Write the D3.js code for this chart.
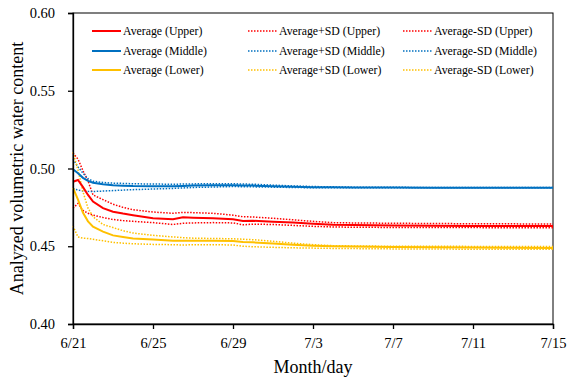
<!DOCTYPE html>
<html>
<head>
<meta charset="utf-8">
<script src="https://cdn.jsdelivr.net/npm/d3@7"></script>
<style>
    body { margin: 0; background: #fff; }
    svg, svg text { font-family: "Liberation Serif", "Times New Roman", Times, serif; fill: #000; }
</style>
</head>
<body>
<div id="svg_div"></div>
<script>
// days after 6/21
let days = [0, 0.25, 0.5, 0.75, 1, 1.5, 2, 2.5, 3, 4, 5, 5.5, 6, 7, 8, 8.5, 9, 10, 11, 12, 13, 14, 16, 18, 20, 22, 24];

let upper_avg = [0.4915, 0.4926, 0.4880, 0.4830, 0.4787, 0.4745, 0.4722, 0.4710, 0.4700, 0.4680, 0.4673, 0.4686, 0.4684, 0.4680, 0.4673, 0.4662, 0.4664, 0.4658, 0.4652, 0.4645, 0.4638, 0.4636, 0.4634, 0.4632, 0.4631, 0.4630, 0.4630];
let upper_plus = [0.5100, 0.5060, 0.4985, 0.4920, 0.4830, 0.4800, 0.4770, 0.4750, 0.4735, 0.4720, 0.4712, 0.4718, 0.4716, 0.4712, 0.4700, 0.4690, 0.4688, 0.4680, 0.4670, 0.4660, 0.4652, 0.4650, 0.4648, 0.4646, 0.4645, 0.4644, 0.4643];
let upper_minus = [0.4745, 0.4775, 0.4730, 0.4712, 0.4700, 0.4685, 0.4672, 0.4665, 0.4660, 0.4652, 0.4640, 0.4648, 0.4650, 0.4652, 0.4650, 0.4638, 0.4642, 0.4640, 0.4634, 0.4628, 0.4624, 0.4622, 0.4621, 0.4620, 0.4620, 0.4619, 0.4619];

let middle_avg = [0.4995, 0.4970, 0.4940, 0.4920, 0.4908, 0.4898, 0.4892, 0.4889, 0.4887, 0.4886, 0.4886, 0.4888, 0.4890, 0.4892, 0.4893, 0.4891, 0.4890, 0.4886, 0.4883, 0.4880, 0.4879, 0.4878, 0.4878, 0.4877, 0.4877, 0.4877, 0.4877];
let middle_plus = [0.5060, 0.5010, 0.4970, 0.4935, 0.4918, 0.4910, 0.4906, 0.4904, 0.4902, 0.4900, 0.4899, 0.4900, 0.4901, 0.4902, 0.4902, 0.4900, 0.4899, 0.4893, 0.4888, 0.4884, 0.4882, 0.4880, 0.4879, 0.4878, 0.4878, 0.4878, 0.4878];
let middle_minus = [0.4870, 0.4862, 0.4856, 0.4853, 0.4852, 0.4855, 0.4858, 0.4861, 0.4864, 0.4868, 0.4872, 0.4875, 0.4878, 0.4881, 0.4884, 0.4883, 0.4882, 0.4880, 0.4878, 0.4876, 0.4876, 0.4876, 0.4876, 0.4876, 0.4876, 0.4876, 0.4876];

let lower_avg = [0.4875, 0.4800, 0.4715, 0.4660, 0.4626, 0.4594, 0.4570, 0.4560, 0.4550, 0.4543, 0.4536, 0.4535, 0.4536, 0.4535, 0.4533, 0.4528, 0.4525, 0.4518, 0.4510, 0.4504, 0.4500, 0.4498, 0.4495, 0.4493, 0.4492, 0.4490, 0.4488];
let lower_plus = [0.5105, 0.4990, 0.4850, 0.4745, 0.4690, 0.4640, 0.4620, 0.4600, 0.4585, 0.4570, 0.4560, 0.4555, 0.4552, 0.4550, 0.4548, 0.4545, 0.4542, 0.4532, 0.4520, 0.4510, 0.4504, 0.4502, 0.4500, 0.4500, 0.4499, 0.4499, 0.4498];
let lower_minus = [0.4630, 0.4560, 0.4552, 0.4550, 0.4545, 0.4535, 0.4525, 0.4520, 0.4516, 0.4512, 0.4510, 0.4508, 0.4510, 0.4510, 0.4508, 0.4500, 0.4497, 0.4493, 0.4490, 0.4488, 0.4486, 0.4485, 0.4483, 0.4482, 0.4481, 0.4480, 0.4480];

let x_ticks = [0, 4, 8, 12, 16, 20, 24];
let x_tick_labels = ["6/21", "6/25", "6/29", "7/3", "7/7", "7/11", "7/15"];
let y_ticks = [0.40, 0.45, 0.50, 0.55, 0.60];

let label_x = "Month/day";
let label_y = "Analyzed volumetric water content";

// legend order is row by row, like the picture
let series = [
    { name: "Average (Upper)", values: upper_avg, color: "#FF0000", dotted: false },
    { name: "Average+SD (Upper)", values: upper_plus, color: "#FF0000", dotted: true },
    { name: "Average-SD (Upper)", values: upper_minus, color: "#FF0000", dotted: true },
    { name: "Average (Middle)", values: middle_avg, color: "#0070C0", dotted: false },
    { name: "Average+SD (Middle)", values: middle_plus, color: "#0070C0", dotted: true },
    { name: "Average-SD (Middle)", values: middle_minus, color: "#0070C0", dotted: true },
    { name: "Average (Lower)", values: lower_avg, color: "#FFC000", dotted: false },
    { name: "Average+SD (Lower)", values: lower_plus, color: "#FFC000", dotted: true },
    { name: "Average-SD (Lower)", values: lower_minus, color: "#FFC000", dotted: true }
];

let font = "'Liberation Serif', 'Times New Roman', Times, serif";

//margins and dimensions
let width = 568, height = 379;
let margin = { left: 73, right: 15, top: 13, bottom: 55 };
let inner_w = width - margin.left - margin.right;
let inner_h = height - margin.top - margin.bottom;

let svg = d3.select("#svg_div").append("svg")
    .attr("width", width)
    .attr("height", height)
    .attr("font-family", font);

let g = svg.append("g")
    .attr("transform", "translate(" + margin.left + "," + margin.top + ")");

//scales
let x = d3.scaleLinear().domain([0, 24]).range([0, inner_w]);
let y = d3.scaleLinear().domain([0.40, 0.60]).range([inner_h, 0]);

//frame (top and right)
g.append("rect")
    .attr("width", inner_w)
    .attr("height", inner_h)
    .attr("fill", "none")
    .attr("stroke", "#000")
    .attr("stroke-width", 1);

//lines, dotted first so the averages sit on top
let line = d3.line().x((d, i) => x(days[i])).y(d => y(d));
let order = series.filter(s => s.dotted).concat(series.filter(s => !s.dotted));

g.selectAll(".series")
    .data(order)
    .join("path")
    .attr("class", "series")
    .attr("d", d => line(d.values))
    .attr("fill", "none")
    .attr("stroke", d => d.color)
    .attr("stroke-width", d => d.dotted ? 1.5 : 2)
    .attr("stroke-dasharray", d => d.dotted ? "1.5,1.5" : null);

//axes
let y_axis = g.append("g")
    .call(d3.axisLeft(y).tickValues(y_ticks).tickFormat(d3.format(".2f")).tickSize(5).tickPadding(13));

let x_axis = g.append("g")
    .attr("transform", "translate(0," + inner_h + ")")
    .call(d3.axisBottom(x).tickValues(x_ticks).tickFormat((d, i) => x_tick_labels[i]).tickSize(5).tickPadding(9));

[x_axis, y_axis].forEach(a => {
    a.attr("font-family", font).attr("font-size", 14.5);
    a.select(".domain").attr("stroke", "#000").attr("stroke-width", 1.3);
    a.selectAll(".tick line").attr("stroke", "#000").attr("stroke-width", 1.3);
    a.selectAll(".tick text").attr("fill", "#000");
});

//axis labels
g.append("text")
    .attr("x", inner_w / 2)
    .attr("y", inner_h + 49)
    .attr("text-anchor", "middle")
    .attr("font-size", 18)
    .text(label_x);

g.append("text")
    .attr("transform", "translate(" + (-margin.left + 23) + "," + (inner_h / 2) + ") rotate(-90)")
    .attr("text-anchor", "middle")
    .attr("font-size", 18)
    .text(label_y);

//legend
let col_x = [19, 175, 330];
let row_y = [18, 38, 57];

let legend = g.selectAll(".legend")
    .data(series)
    .join("g")
    .attr("class", "legend")
    .attr("transform", (d, i) => "translate(" + col_x[i % 3] + "," + row_y[Math.floor(i / 3)] + ")");

legend.append("line")
    .attr("x1", 0)
    .attr("x2", 29)
    .attr("y1", 0)
    .attr("y2", 0)
    .attr("stroke", d => d.color)
    .attr("stroke-width", d => d.dotted ? 1.3 : 2)
    .attr("stroke-dasharray", d => d.dotted ? "1.5,1.5" : null);

legend.append("text")
    .attr("x", 31)
    .attr("y", 4)
    .attr("font-size", 11.8)
    .text(d => d.name);
</script>
</body>
</html>
